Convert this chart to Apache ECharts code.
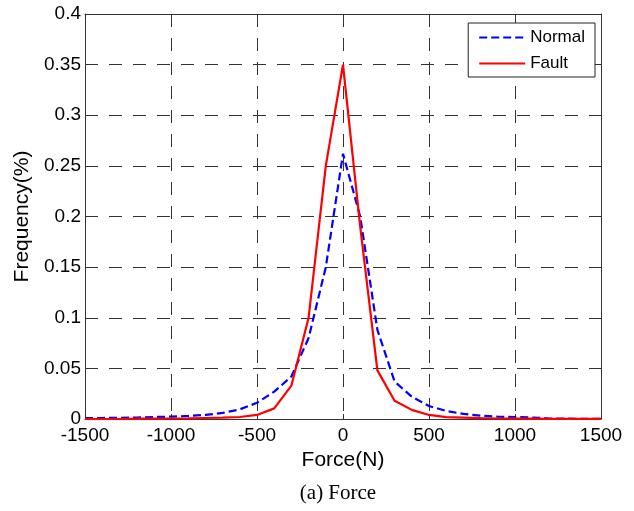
<!DOCTYPE html>
<html>
<head>
<meta charset="utf-8">
<script src="https://cdn.jsdelivr.net/npm/echarts@6/dist/echarts.min.js"></script>
<style>
html,body{margin:0;padding:0;background:#fff;}
#c{width:634px;height:511px;}
</style>
</head>
<body>
<div id="c"></div>
<script>
const forceBins = [-1500,-1400,-1300,-1200,-1100,-1000,-900,-800,-700,-600,-500,-400,-300,-200,-100,0,100,200,300,400,500,600,700,800,900,1000,1100,1200,1300,1400,1500];
const normalFreq = [0.001,0.001,0.0012,0.0015,0.002,0.0023,0.003,0.004,0.006,0.0095,0.016,0.027,0.042,0.08,0.15,0.262,0.2,0.088,0.037,0.022,0.0128,0.008,0.005,0.0033,0.0023,0.002,0.0015,0.0005,0.0003,0.0002,0.0002];
const faultFreq = [0,0,0,0.0003,0.0004,0.0005,0.0007,0.001,0.0013,0.002,0.004,0.0105,0.033,0.1,0.25,0.35,0.19,0.048,0.018,0.009,0.004,0.0018,0.0013,0.0008,0.0005,0.0004,0.0003,0.0002,0.0001,0.0001,0.0001];
const seriesNames = ['Normal','Fault'];
const xLabel = 'Force(N)';
const yLabel = 'Frequency(%)';
const caption = '(a) Force';

const chart = echarts.init(document.getElementById('c'), null, {renderer:'canvas'});
const axisColor = '#333';
const gridLine = {show:true, lineStyle:{color:'#333', type:[13,11], width:1}};
const font = 'Liberation Sans, Arial, sans-serif';
chart.setOption({
  animation:false,
  backgroundColor:'#fff',
  grid:{left:85, right:33, top:14, bottom:92, containLabel:false},
  graphic:[{
    type:'text', x:338, y:493,
    style:{text:caption, fontFamily:'Liberation Serif, Times New Roman, serif', fontSize:21, fill:'#000', textAlign:'center', textVerticalAlign:'middle'}
  }],
  legend:{
    data:seriesNames, orient:'vertical', right:39, top:23, itemWidth:46, itemHeight:12, itemGap:9,
    padding:[6,10,5,10],
    itemStyle:{opacity:0},
    borderColor:'#222', borderWidth:1, backgroundColor:'#fff', borderRadius:0,
    textStyle:{fontFamily:font, fontSize:17, color:'#000'}
  },
  xAxis:[{
    type:'value', min:-1500, max:1500, interval:500, position:'bottom',
    name:xLabel, nameLocation:'middle', nameGap:30,
    nameTextStyle:{fontFamily:font, fontSize:21, color:'#000'},
    axisLine:{show:true, onZero:false, lineStyle:{color:axisColor, width:1}},
    axisTick:{show:true, inside:true, length:5, lineStyle:{color:axisColor}},
    axisLabel:{fontFamily:font, fontSize:19, color:'#000', margin:7, formatter:v=>String(v)},
    splitLine:gridLine
  },{
    type:'value', min:-1500, max:1500, interval:500, position:'top',
    axisLine:{show:true, onZero:false, lineStyle:{color:axisColor, width:1}},
    axisTick:{show:true, inside:true, length:5, lineStyle:{color:axisColor}},
    axisLabel:{show:false}, splitLine:{show:false}
  }],
  yAxis:[{
    type:'value', min:0, max:0.4, interval:0.05, position:'left',
    name:yLabel, nameLocation:'middle', nameGap:51,
    nameTextStyle:{fontFamily:font, fontSize:21, color:'#000'},
    axisLine:{show:true, onZero:false, lineStyle:{color:axisColor, width:1}},
    axisTick:{show:true, inside:true, length:5, lineStyle:{color:axisColor}},
    axisLabel:{fontFamily:font, fontSize:19, color:'#000', margin:4},
    splitLine:gridLine
  },{
    type:'value', min:0, max:0.4, interval:0.05, position:'right',
    axisLine:{show:true, onZero:false, lineStyle:{color:axisColor, width:1}},
    axisTick:{show:true, inside:true, length:5, lineStyle:{color:axisColor}},
    axisLabel:{show:false}, splitLine:{show:false}
  }],
  series:[{
    name:seriesNames[0], type:'line', symbol:'none', xAxisIndex:0, yAxisIndex:0,
    data:forceBins.map((x,i)=>[x, normalFreq[i]]),
    lineStyle:{color:'#0000ff', width:2.2, type:[8,4]}, itemStyle:{color:'#0000ff'}, z:3
  },{
    name:seriesNames[1], type:'line', symbol:'none', xAxisIndex:0, yAxisIndex:0,
    data:forceBins.map((x,i)=>[x, faultFreq[i]]),
    lineStyle:{color:'#ff0000', width:2.2, type:'solid'}, itemStyle:{color:'#ff0000'}, z:4
  }]
});
</script>
</body>
</html>
